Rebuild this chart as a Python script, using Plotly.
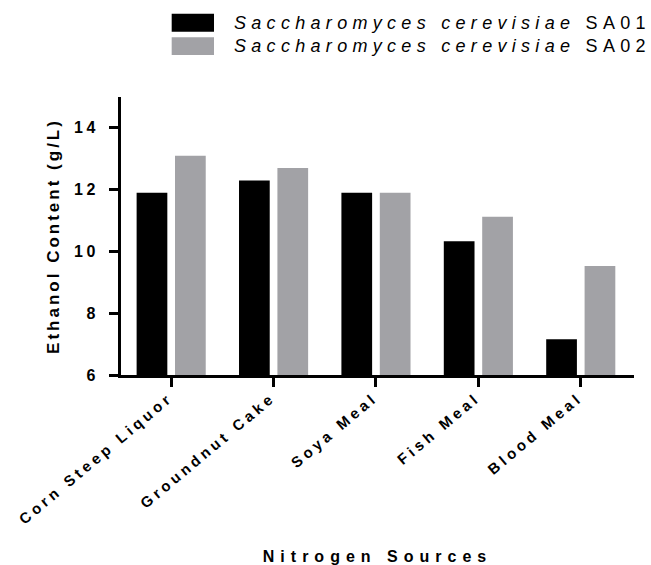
import plotly.graph_objects as go

categories = ["Corn Steep Liquor", "Groundnut Cake", "Soya Meal", "Fish Meal", "Blood Meal"]
sa01_values = [11.9, 12.3, 11.9, 10.33, 7.16]
sa02_values = [13.1, 12.7, 11.9, 11.12, 9.53]
series_names = ["Saccharomyces cerevisiae SA01", "Saccharomyces cerevisiae SA02"]
legend_labels = ["<i>Saccharomyces cerevisiae</i> SA01", "<i>Saccharomyces cerevisiae</i> SA02"]
y_ticks = [6, 8, 10, 12, 14]

BLACK = "#000000"
GRAY = "#a2a2a6"
FONT = "Liberation Sans, Arial, sans-serif"

fig = go.Figure()
fig.add_trace(go.Bar(x=categories, y=sa01_values, name=series_names[0],
                     marker=dict(color=BLACK, line=dict(width=0)), showlegend=False))
fig.add_trace(go.Bar(x=categories, y=sa02_values, name=series_names[1],
                     marker=dict(color=GRAY, line=dict(width=0)), showlegend=False))

# legend drawn as swatches + labels
sw_rows = [(1.2996, 1.2349), (1.2147, 1.1511)]
txt_rows = [1.2662, 1.1817]
for (y_top, y_bot), ty, col, lab in zip(sw_rows, txt_rows, [BLACK, GRAY], legend_labels):
    fig.add_shape(type="rect", xref="paper", yref="paper", x0=0.0988, x1=0.1813,
                  y0=y_bot, y1=y_top, fillcolor=col, line=dict(width=0))
    fig.add_annotation(xref="paper", yref="paper", x=0.2158, y=ty, xanchor="left",
                       yanchor="middle", align="left", showarrow=False, text=lab,
                       font=dict(family=FONT, size=18, color=BLACK))

fig.update_layout(
    width=651, height=565,
    margin=dict(l=121, r=17, t=97, b=190, autoexpand=False),
    paper_bgcolor="white", plot_bgcolor="white",
    barmode="group", bargap=0.25, bargroupgap=0.2,
    font=dict(family=FONT, color=BLACK),
)
fig.update_xaxes(
    range=[-0.49, 4.52], showgrid=False, zeroline=False,
    showline=True, linecolor=BLACK, linewidth=3,
    ticks="outside", ticklen=9, tickwidth=2.5, tickcolor=BLACK,
    tickangle=-40, tickfont=dict(family=FONT, size=15, color=BLACK, weight="bold"),
    title=dict(text="Nitrogen Sources", standoff=70,
               font=dict(family=FONT, size=16, color=BLACK, weight="bold")),
    automargin=False,
)
fig.update_yaxes(
    range=[6, 15], tickvals=y_ticks, showgrid=False, zeroline=False,
    showline=True, linecolor=BLACK, linewidth=3,
    ticks="outside", ticklen=9, tickwidth=2.5, tickcolor=BLACK,
    ticklabelstandoff=7,
    tickfont=dict(family=FONT, size=16, color=BLACK, weight="bold"),
    title=dict(text="Ethanol Content (g/L)", standoff=18,
               font=dict(family=FONT, size=17, color=BLACK, weight="bold")),
    automargin=False,
)

post = """
document.body.style.margin = '0';
var gd = document.getElementById('{plot_id}');
function ls(sel, v) { gd.querySelectorAll(sel).forEach(function(e){ e.style.letterSpacing = v; }); }
ls('.xtick text', '3.8px');
ls('.ytick text', '3.5px');
ls('.xtitle', '6px');
ls('.ytitle', '3px');
ls('.annotation-text', '5.3px');
gd.querySelectorAll('.xtick text').forEach(function(e){ e.setAttribute('dx', '1'); e.setAttribute('dy', '-4'); });
"""

fig.write_html("out.html", post_script=post, config={"responsive": False, "displayModeBar": False})
